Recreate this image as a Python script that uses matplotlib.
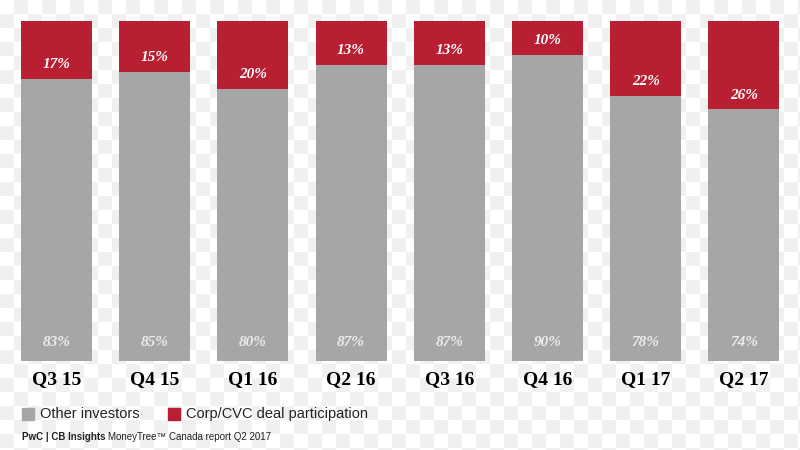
import matplotlib
matplotlib.use("Agg")
import matplotlib.pyplot as plt
import numpy as np
from matplotlib.patches import Rectangle
from matplotlib.colors import ListedColormap

quarters = ["Q3 15", "Q4 15", "Q1 16", "Q2 16", "Q3 16", "Q4 16", "Q1 17", "Q2 17"]
other_investors = [83, 85, 80, 87, 87, 90, 78, 74]
corp_cvc = [17, 15, 20, 13, 13, 10, 22, 26]

gray = "#a7a6a7"
red = "#b81f33"

fig = plt.figure(figsize=(8, 4.5), dpi=100)

# checkerboard background
bg = fig.add_axes([0, 0, 1, 1], zorder=-10)
sq = 14
nx, ny = 800 // sq + 1, 450 // sq + 1
board = (np.add.outer(np.arange(ny), np.arange(nx)) % 2).astype(float)
bg.imshow(board, cmap=ListedColormap(["#ffffff", "#f0f0f0"]), extent=[0, nx * sq, ny * sq, 0],
          interpolation="nearest", aspect="auto")
bg.set_xlim(0, 800)
bg.set_ylim(450, 0)
bg.axis("off")

ax = fig.add_axes([7.4 / 800, 89 / 450, (793 - 7.4) / 800, 340 / 450])
ax.patch.set_alpha(0)
x = np.arange(len(quarters))
w = 0.725
ax.bar(x, other_investors, width=w, color=gray, zorder=2)
ax.bar(x, corp_cvc, bottom=other_investors, width=w, color=red, zorder=2)

for xi, o, c in zip(x, other_investors, corp_cvc):
    ax.text(xi, o + 4.2, f"{c}%", ha="center", va="center", color="white",
            fontsize=11, fontweight="bold", fontstyle="italic", family="Liberation Serif", zorder=3)
    ax.text(xi, 5.5, f"{o}%", ha="center", va="center", color="#ececec",
            fontsize=11, fontweight="bold", fontstyle="italic", family="Liberation Serif", zorder=3)

ax.set_xlim(-0.5, len(quarters) - 0.5)
ax.set_ylim(0, 100)
ax.set_xticks(x)
ax.set_xticklabels(quarters, fontsize=14, fontweight="bold", family="Liberation Serif", color="black")
ax.tick_params(axis="x", length=0, pad=7)
ax.set_yticks([])
for s in ax.spines.values():
    s.set_visible(False)

# legend
fig.patches.append(Rectangle((22 / 800, 1 - 420 / 450), 12 / 800, 12 / 450,
                             transform=fig.transFigure, color=gray))
fig.text(40 / 800, 1 - 414 / 450, "Other investors", fontsize=10.5, family="Liberation Sans",
         va="center", ha="left", color="#222222")
fig.patches.append(Rectangle((168 / 800, 1 - 420 / 450), 12 / 800, 12 / 450,
                             transform=fig.transFigure, color=red))
fig.text(186 / 800, 1 - 414 / 450, "Corp/CVC deal participation", fontsize=10.5, family="Liberation Sans",
         va="center", ha="left", color="#222222")

# footer
t1 = fig.text(22 / 800, 1 - 437 / 450, "PwC | CB Insights", fontsize=7, fontweight="bold",
              family="Liberation Sans", va="center", ha="left", color="#222222")
fig.canvas.draw()
bb = t1.get_window_extent(renderer=fig.canvas.get_renderer())
fig.text((bb.x1 + 3) / 800, 1 - 437 / 450, "MoneyTree\u2122 Canada report Q2 2017", fontsize=7,
         family="Liberation Sans", va="center", ha="left", color="#222222")

fig.savefig("out.png", dpi=100)
